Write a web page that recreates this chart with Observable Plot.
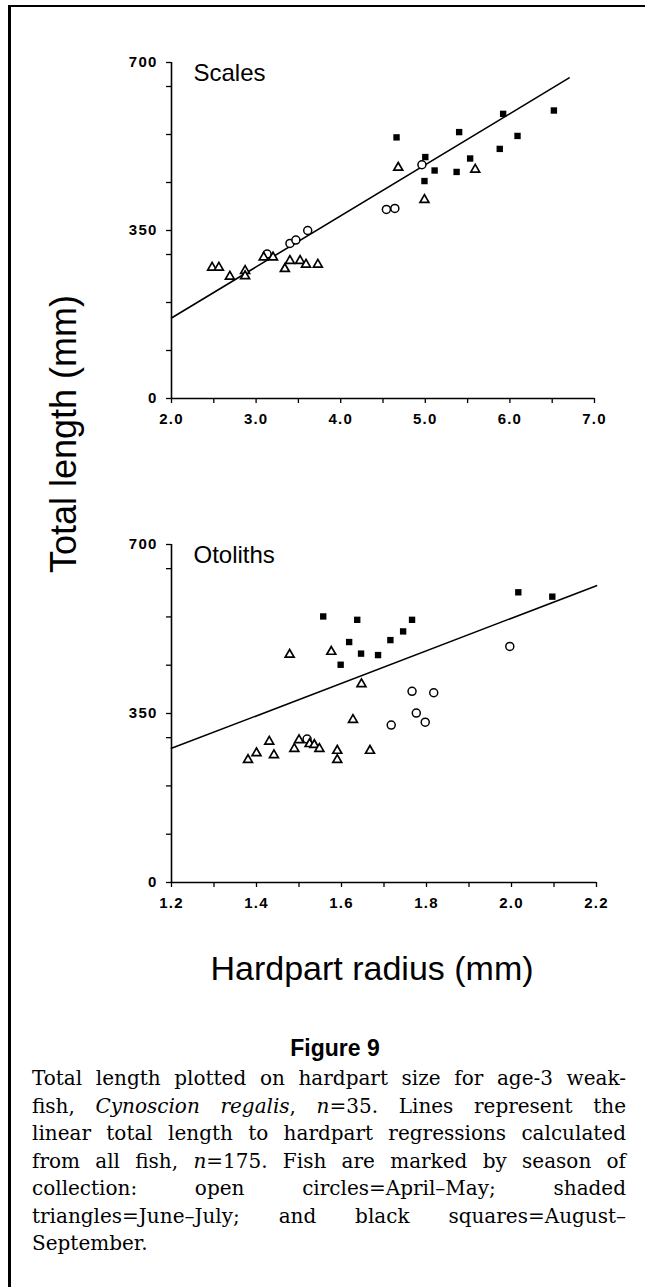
<!DOCTYPE html>
<html>
<head>
<meta charset="utf-8">
<script src="https://cdn.jsdelivr.net/npm/d3@7"></script>
<script src="https://cdn.jsdelivr.net/npm/@observablehq/plot@0.6"></script>
<style>
html, body { margin: 0; padding: 0; background: #fff; }
body { width: 645px; height: 1287px; position: relative; overflow: hidden; font-family: "Liberation Sans", Arial, sans-serif; }
#frame { position: absolute; left: 8px; top: 5px; right: -5px; bottom: -10px; border-left: 3px solid #000; border-top: 2px solid #000; }
#plotTop { position: absolute; left: 0; top: 0; }
#plotBottom { position: absolute; left: 0; top: 480px; }
#ytitle { position: absolute; left: 64px; top: 434px; transform: translate(-50%, -50%) rotate(-90deg); font-size: 36px; white-space: nowrap; color: #000; }
#xtitle { position: absolute; left: 372px; top: 968px; transform: translate(-50%, -50%); font-size: 34px; white-space: nowrap; color: #000; }
#fig { position: absolute; left: 0; width: 670px; top: 1035px; text-align: center; font-weight: bold; font-size: 23px; }
#caption { position: absolute; left: 32px; width: 594px; top: 1065px; font-family: "DejaVu Serif", "Liberation Serif", serif; font-size: 20px; line-height: 27.5px; color: #000; }
#caption .ln { text-align: justify; text-align-last: justify; white-space: nowrap; }
#caption .last { text-align: left; text-align-last: left; }
svg g[aria-label="y-axis tick label"] text, svg g[aria-label="x-axis tick label"] text { letter-spacing: 1.2px; }
</style>
</head>
<body>
<div id="frame"></div>
<div id="plotTop"></div>
<div id="plotBottom"></div>
<div id="ytitle">Total length (mm)</div>
<div id="xtitle">Hardpart radius (mm)</div>
<div id="fig">Figure 9</div>
<div id="caption">
  <div class="ln">Total length plotted on hardpart size for age-3 weak-</div>
  <div class="ln">fish, <i>Cynoscion regalis</i>, <i>n</i>=35. Lines represent the</div>
  <div class="ln">linear total length to hardpart regressions calculated</div>
  <div class="ln">from all fish, <i>n</i>=175. Fish are marked by season of</div>
  <div class="ln">collection: open circles=April–May; shaded</div>
  <div class="ln">triangles=June–July; and black squares=August–</div>
  <div class="ln last">September.</div>
</div>
<script>
// ---------- Data: Scales panel ----------
const scalesCircleX = [3.13, 3.40, 3.47, 3.61, 4.54, 4.64, 4.96];
const scalesCircleY = [301, 323, 330, 350, 394, 396, 487];
const scalesTriangleX = [2.48, 2.56, 2.69, 2.87, 2.87, 3.09, 3.20, 3.34, 3.40, 3.52, 3.59, 3.73, 4.68, 4.99, 5.59];
const scalesTriangleY = [273, 273, 254, 266, 255, 294, 294, 270, 287, 287, 279, 279, 481, 414, 477];
const scalesSquareX = [4.66, 5.00, 4.99, 5.11, 5.37, 5.40, 5.53, 5.88, 5.92, 6.09, 6.52];
const scalesSquareY = [544, 503, 453, 475, 472, 555, 500, 520, 593, 547, 600];
const scalesRegression = { intercept: -45, slope: 106.4, from: 2.0, to: 6.7 };
const scalesXTicks = [2.0, 2.5, 3.0, 3.5, 4.0, 4.5, 5.0, 5.5, 6.0, 6.5, 7.0];
const scalesXLabels = [2.0, 3.0, 4.0, 5.0, 6.0, 7.0];

// ---------- Data: Otoliths panel ----------
const otoCircleX = [1.519, 1.717, 1.766, 1.776, 1.797, 1.817, 1.996];
const otoCircleY = [297, 326, 396, 351, 332, 393, 489];
const otoTriangleX = [1.380, 1.400, 1.430, 1.441, 1.478, 1.489, 1.500, 1.525, 1.536, 1.548, 1.576, 1.590, 1.590, 1.627, 1.647, 1.667];
const otoTriangleY = [254, 268, 292, 264, 472, 277, 295, 287, 285, 277, 478, 273, 254, 337, 411, 273];
const otoSquareX = [1.557, 1.598, 1.618, 1.637, 1.646, 1.686, 1.715, 1.745, 1.766, 2.016, 2.096];
const otoSquareY = [551, 451, 498, 544, 474, 471, 502, 520, 544, 601, 592];
const otoRegression = { intercept: -126.6, slope: 337, from: 1.2, to: 2.2 };
const otoXTicks = [1.2, 1.3, 1.4, 1.5, 1.6, 1.7, 1.8, 1.9, 2.0, 2.1, 2.2];
const otoXLabels = [1.2, 1.4, 1.6, 1.8, 2.0, 2.2];

// ---------- Shared y axis ----------
const yTicks = [0, 100, 200, 300, 350, 450, 550, 650, 700];
const yLabels = [0, 350, 700];

function pts(xs, ys) { return xs.map((x, i) => ({ x, y: ys[i] })); }

function panel(o) {
  const lineData = [o.reg.from, o.reg.to].map(x => ({ x, y: o.reg.intercept + o.reg.slope * x }));
  const isLabel = (d, arr) => arr.some(v => Math.abs(v - d) < 1e-9);
  return Plot.plot({
    width: 645,
    height: o.height,
    marginLeft: 171,
    marginRight: o.mr,
    marginTop: o.mt,
    marginBottom: o.mb,
    x: { domain: o.xDomain, axis: null },
    y: { domain: [0, 700], axis: null },
    style: { fontFamily: "'Liberation Sans', Arial, sans-serif", background: "transparent", color: "#000" },
    marks: [
      Plot.axisY(yTicks, { anchor: "left", label: null, tickSize: 5, tickPadding: 9, strokeWidth: 1.3,
        tickFormat: d => isLabel(d, yLabels) ? String(d) : "", fontSize: 15, fontWeight: "bold" }),
      Plot.axisX(o.xTicks, { anchor: "bottom", label: null, tickSize: 5, tickPadding: 10, strokeWidth: 1.3,
        tickFormat: d => isLabel(d, o.xLabels) ? d.toFixed(1) : "", fontSize: 15, fontWeight: "bold" }),
      Plot.ruleX([o.xDomain[0]], { stroke: "#000", strokeWidth: 1.6 }),
      Plot.ruleY([0], { stroke: "#000", strokeWidth: 1.6 }),
      Plot.line(lineData, { x: "x", y: "y", stroke: "#000", strokeWidth: 1.6 }),
      Plot.dot(pts(o.cx, o.cy), { x: "x", y: "y", symbol: "circle", r: 4, stroke: "#000", fill: "#fff", strokeWidth: 1.5 }),
      Plot.dot(pts(o.tx, o.ty), { x: "x", y: "y", symbol: "triangle", r: 3.3, stroke: "#000", fill: "#fff", strokeWidth: 1.7 }),
      Plot.dot(pts(o.sx, o.sy), { x: "x", y: "y", symbol: "square", r: 3.6, fill: "#000", stroke: "none" }),
      Plot.text([o.name], { frameAnchor: "top-left", dx: 22, dy: 1, fontSize: 24, fontWeight: "normal", textAnchor: "start", lineAnchor: "top", fill: "#000" })
    ]
  });
}

document.getElementById("plotTop").append(panel({
  name: "Scales", height: 430, mt: 62, mb: 32, mr: 51, xDomain: [2, 7],
  xTicks: scalesXTicks, xLabels: scalesXLabels, reg: scalesRegression,
  cx: scalesCircleX, cy: scalesCircleY, tx: scalesTriangleX, ty: scalesTriangleY, sx: scalesSquareX, sy: scalesSquareY
}));

document.getElementById("plotBottom").append(panel({
  name: "Otoliths", height: 450, mt: 64, mb: 48, mr: 49, xDomain: [1.2, 2.2],
  xTicks: otoXTicks, xLabels: otoXLabels, reg: otoRegression,
  cx: otoCircleX, cy: otoCircleY, tx: otoTriangleX, ty: otoTriangleY, sx: otoSquareX, sy: otoSquareY
}));
</script>
</body>
</html>
